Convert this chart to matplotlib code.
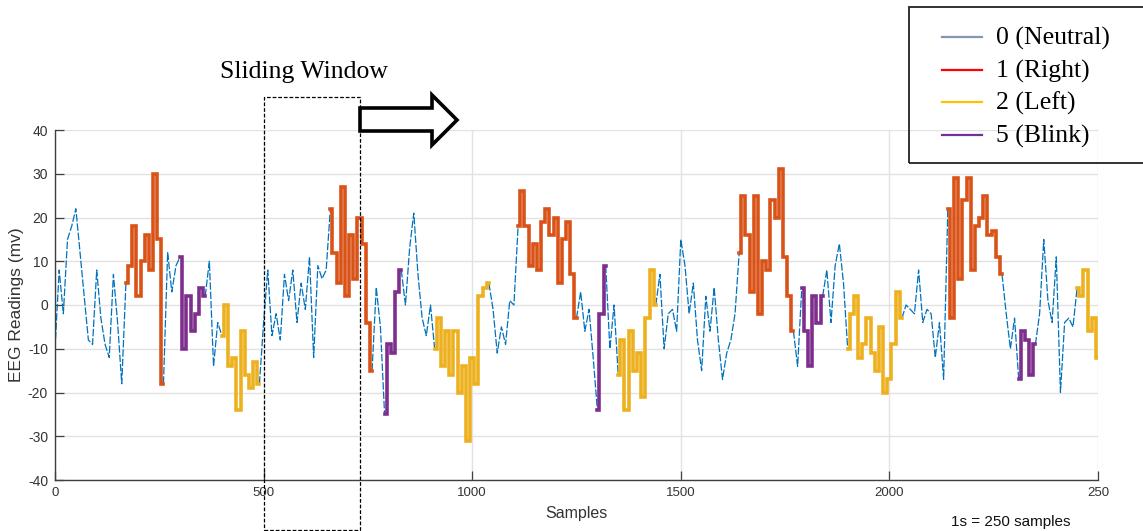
import matplotlib
matplotlib.use("Agg")
import matplotlib.pyplot as plt
import numpy as np
from matplotlib.patches import Rectangle, Polygon
from matplotlib.lines import Line2D
from matplotlib import transforms
from matplotlib import font_manager

# ---------------- data ----------------
step = 10  # samples between readings
eeg_a = [-10, 8, -2, 15, 18, 22, 12, 2, -8, -9, 8, -3, -9, -12, 7, -4, -18,
         5, 9, 18, 2, 10, 16, 8, 30, 15, -18, 12, 3, 9, 11, -10, 2, -6, -2, 4,
         2, 10, -14, -4, -7, 0, -14, -12, -24, -6, -16, -19, -13]          # 0..480
eeg_b = [-18, -4, 8, -7, -2, -8, 7, 1, 8, -4, 5, -1, 11, -12, 9, 6, 8,
         22, 12, 5, 27, 2, 16, 6, 20, 14, -4, -15, 4, -5, -25, -9, -11, 3,
         8, 0, 13, 21, 7, -3, -7, 0, -10, -3, -14, -6, -16, -6, -20, -14]   # 490..980
eeg_c = [-31, -12, -18, 2, 4, 5, -1, -11, -5, -9, 1, 0, 18, 26, 18, 9, 14,
         8, 19, 22, 16, 20, 5, 15, 19, 7, -3, 3, -6, -1, -12, -24, -2, 9,
         -10, 0, -16, -8, -24, -6, -15, -11, -21, -3, 8, 0, 7, -10, -2, -1]  # 990..1480
eeg_d = [-6, 15, 9, -2, 5, -8, -15, 2, -6, 4, -8, -17, -11, -8, -2, 12, 25,
         16, 3, 25, -2, 10, 8, 24, 20, 31, 11, 2, -6, -14, 4, -6, -14, 2, -4,
         2, 8, -4, 9, 14, 5, -10, -2, 2, -12, -9, -3, -11, -15, -5]         # 1490..1980
eeg_e = [-20, -17, -9, 3, -3, 0, -1, -2, 8, -4, -1, -2, -12, -4, -17, 22,
         -3, 29, 6, 24, 29, 8, 18, 20, 25, 16, 17, 11, 7, -2, -10, -3, -17,
         -6, -8, -16, -9, -2, 15, 1, -4, 11, -20, -4, -3, -5, 4, 2, 8, -6,
         -3, -12]                                                           # 1990..2500
eeg = eeg_a + eeg_b + eeg_c + eeg_d + eeg_e

# segment label changes: (first sample index, class)
seg_start = [0, 170, 260, 300, 360, 400, 490, 660, 760, 790, 830, 910, 1040,
             1110, 1250, 1300, 1320, 1350, 1440, 1640, 1770, 1790, 1840, 1900,
             2030, 2140, 2270, 2310, 2350, 2450]
seg_class = [0, 1, 0, 5, 0, 2, 0, 1, 0, 5, 0, 2, 0, 1, 0, 5, 0, 2, 0, 1, 0,
             5, 0, 2, 0, 1, 0, 5, 0, 2]

legend_labels = ["0 (Neutral)", "1 (Right)", "2 (Left)", "5 (Blink)"]
legend_colors = ["#8497B0", "#FF0000", "#FFC000", "#7030A0"]
trace_colors = {0: "#0072BD", 1: "#D95319", 2: "#EDB120", 5: "#7E2F8E"}

xticks = [0, 500, 1000, 1500, 2000, 2500]
xticklabels = ["0", "500", "1000", "1500", "2000", "250"]
yticks = [-40, -30, -20, -10, 0, 10, 20, 30, 40]

# ---------------- fonts ----------------
names = {f.name for f in font_manager.fontManager.ttflist}
narrow = "Liberation Sans Narrow" if "Liberation Sans Narrow" in names else "Liberation Sans"

# ---------------- figure ----------------
W, H = 1143, 531
fig = plt.figure(figsize=(W / 100, H / 100), dpi=100)

def fx(px):
    return px / W

def fy(py):
    return 1 - py / H

ax = fig.add_axes([fx(55), fy(480), fx(1098) - fx(55), fy(130) - fy(480)])

samples = np.arange(len(eeg)) * step
vals = np.array(eeg, dtype=float)
bounds = seg_start + [samples[-1] + step]
for i, cls in enumerate(seg_class):
    i0 = bounds[i] // step
    i1 = min(bounds[i + 1] // step, len(vals) - 1)
    xs = samples[i0:i1 + 1]
    ys = vals[i0:i1 + 1]
    if cls == 0:
        ax.plot(xs, ys, color=trace_colors[cls], lw=0.9, zorder=2,
                dashes=(6, 1.5))
    else:
        ax.plot(xs, ys, color=trace_colors[cls], lw=2.6, zorder=3,
                drawstyle="steps-mid", solid_joinstyle="miter")

ax.set_xlim(0, 2500)
ax.set_ylim(-40, 40)
ax.set_xticks(xticks)
ax.set_xticklabels(xticklabels, fontfamily=narrow, fontsize=9.5, color="#333333")
ax.set_yticks(yticks)
ax.set_yticklabels([str(v) for v in yticks], fontfamily=narrow,
                   fontsize=10, color="#333333")
ax.tick_params(direction="in", length=6.5, width=0.9, color="#404040", pad=5)
ax.grid(True, color="#e2e2e2", lw=1.0, zorder=0)
ax.set_axisbelow(True)
for s in ["top", "right"]:
    ax.spines[s].set_visible(False)
for s in ["left", "bottom"]:
    ax.spines[s].set_color("#404040")
    ax.spines[s].set_linewidth(1.0)

ax.set_ylabel("EEG Readings (mv)", fontfamily="Liberation Sans", fontsize=12.5,
              color="#333333", labelpad=3)
fig.text(fx(576), fy(518), "Samples", ha="center", va="baseline",
         fontfamily=narrow, fontsize=11.5, color="#333333")
fig.text(fx(1011), fy(526), "1s = 250 samples", ha="center", va="baseline",
         fontfamily=narrow, fontsize=11, color="#111111")

# sliding window (dashed box spanning below the axes)
bt = transforms.blended_transform_factory(ax.transData, fig.transFigure)
win = Rectangle((500, fy(530)), 731 - 500, fy(97) - fy(530), transform=bt,
                fill=False, edgecolor="black", lw=0.9, linestyle=(0, (3, 1.5)),
                clip_on=False, zorder=5)
ax.add_patch(win)
fig.text(fx(220), fy(78), "Sliding Window", ha="left", va="baseline",
         fontfamily="Liberation Serif", fontsize=18.5, color="black")

# block arrow
arrow_px = [(360, 108), (432, 108), (432, 95), (457, 120), (432, 145),
            (432, 131), (360, 131)]
arrow = Polygon([(fx(x), fy(y)) for x, y in arrow_px], closed=True,
                transform=fig.transFigure, facecolor="white", edgecolor="black",
                lw=2.6, joinstyle="miter", zorder=6)
fig.patches.append(arrow)

# legend (drawn manually, transparent frame)
frame = Rectangle((fx(909), fy(163)), fx(1160) - fx(909), fy(7) - fy(163),
                  transform=fig.transFigure, fill=False, edgecolor="#222222",
                  lw=1.3, zorder=7)
fig.patches.append(frame)
row_y = [37, 70, 102, 135]
for lab, col, yy in zip(legend_labels, legend_colors, row_y):
    fig.lines.append(Line2D([fx(942), fx(982)], [fy(yy), fy(yy)],
                            transform=fig.transFigure, color=col, lw=1.6))
    fig.text(fx(996), fy(yy + 7.5), lab, ha="left", va="baseline",
             fontfamily="Liberation Serif", fontsize=18.5, color="black")

fig.savefig("out.png", dpi=100)
